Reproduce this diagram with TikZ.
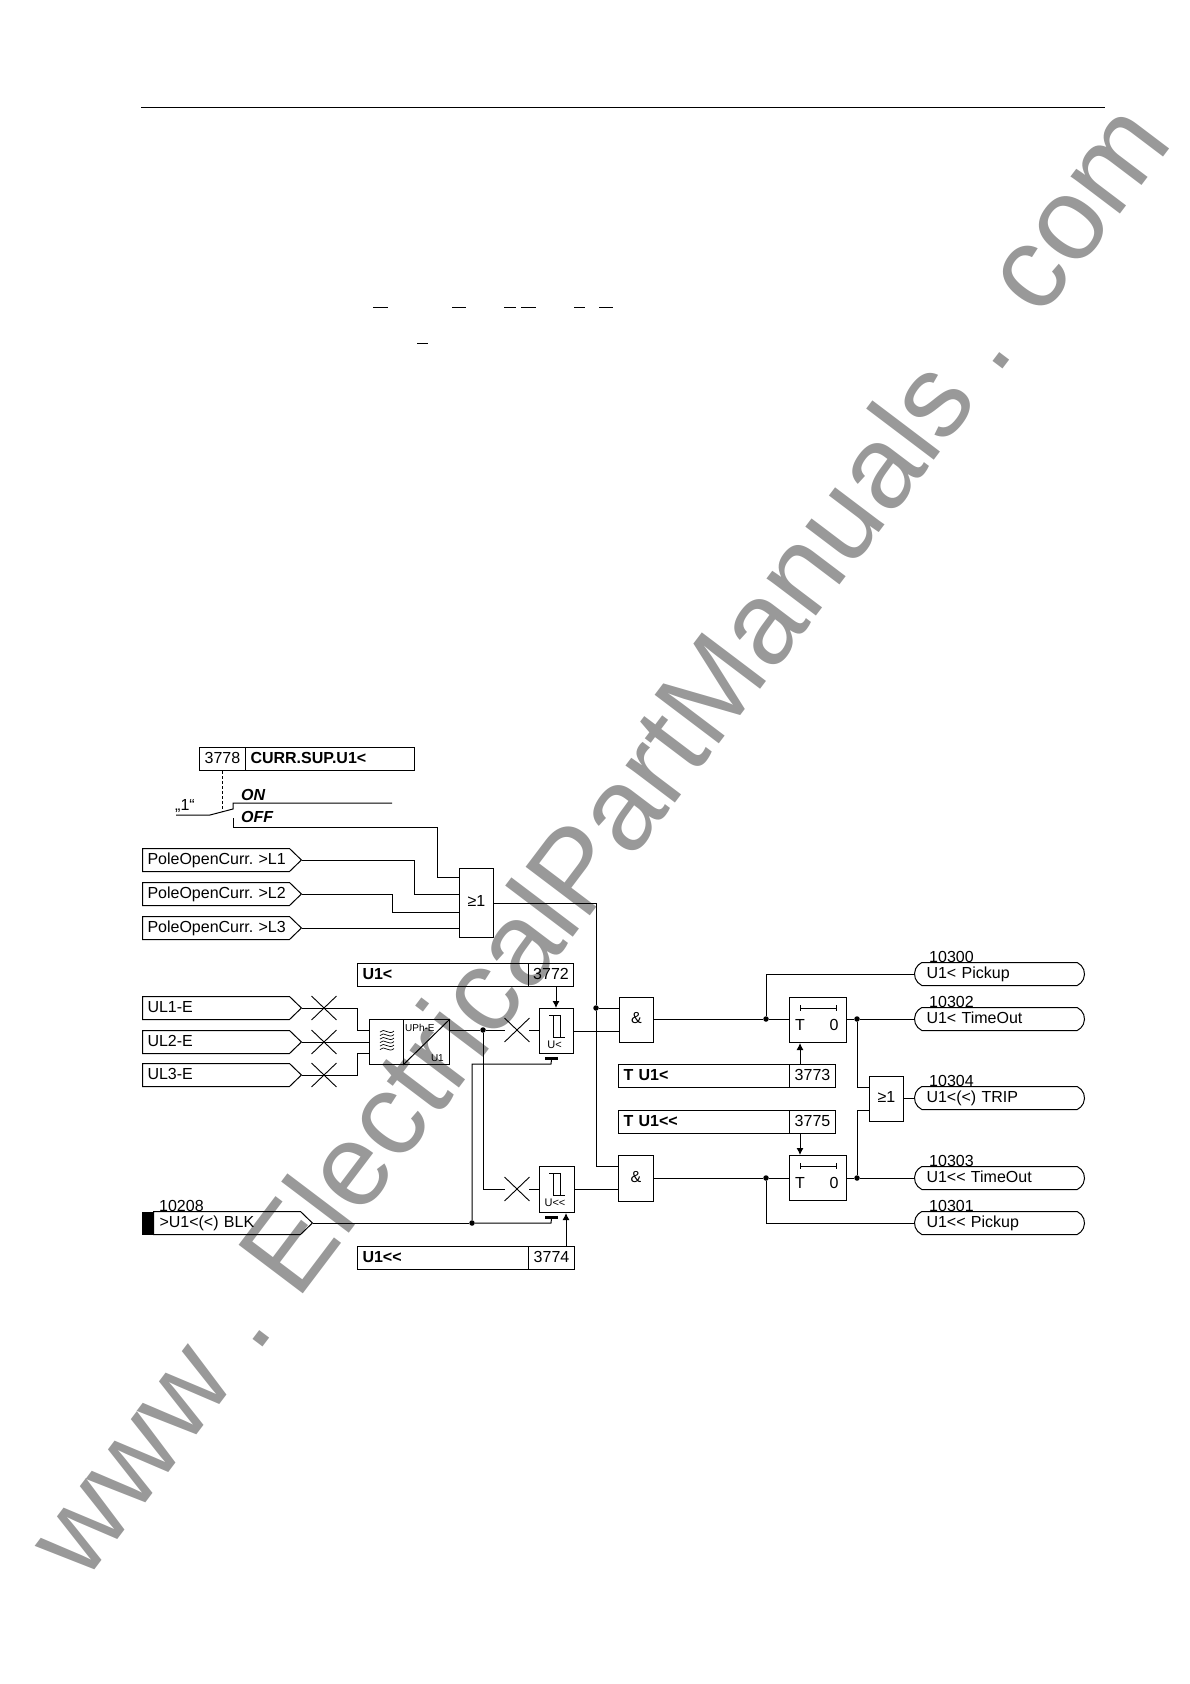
\documentclass[tikz,border=0pt]{standalone}
\usepackage{fontspec}
\setmainfont{Liberation Sans}
\usetikzlibrary{arrows.meta,shapes.misc,shapes.symbols}

\tikzset{
  every node/.style={font=\fontsize{16}{18}\selectfont\frenchspacing},
  wire/.style={line width=1pt},
  cell/.style={draw,line width=1pt,anchor=north west,minimum height=23pt,inner ysep=0pt,inner xsep=5pt,align=left,text height=11.5pt,text depth=3pt},
  numcell/.style={cell,inner xsep=0pt,align=center},
  gate/.style={draw,line width=1pt,anchor=north west,inner sep=0pt,text depth=4pt},
  insig/.style={draw,line width=1pt,signal,signal to=east,signal pointer angle=88,anchor=west,minimum height=23pt,inner ysep=0pt,inner xsep=5pt,align=left,text height=11.5pt,text depth=3pt},
  outsig/.style={draw,line width=1pt,rounded rectangle,rounded rectangle arc length=130,anchor=west,minimum height=23pt,minimum width=170pt,text width=146pt,inner ysep=0pt,inner xsep=0pt,align=left,text height=11.5pt,text depth=3pt},
  crossmark/.style={draw,line width=0.9pt,cross out,minimum width=24pt,minimum height=23pt,inner sep=0pt},
  dot/.style={circle,fill=black,inner sep=0pt,minimum size=5.5pt},
  bar/.style={fill=black,inner sep=0pt,minimum width=13pt,minimum height=3pt},
  tip/.style={-{Latex[length=7pt,width=7pt]}},
  small/.style={font=\fontsize{10}{11}\selectfont,inner sep=0pt},
  smaller/.style={font=\fontsize{11}{11}\selectfont,inner sep=0pt}
}

\begin{document}
\begin{tikzpicture}[x=1pt,y=-1pt]
\useasboundingbox (0,0) rectangle (1190,1684);

% watermark
\node[text=black!40,rotate=52.9,font=\fontsize{117}{130}\selectfont,inner sep=0pt] (mark) at (596,838) {www .\hspace{-8pt} ElectricalPartManuals\hspace{-5pt} .\hspace{-3pt} com};

% page rule and the marks above the text
\draw[line width=1pt] (141,107) -- (1105,107);
\foreach \xa/\xb/\yy in {373/388/307,452/466/307,504/516/307,521/536/307,574/585/307,599/613/307,417/428/343}
  \draw[line width=1pt] (\xa,\yy) -- (\xb,\yy);

% setting and switch
\node[numcell,minimum width=46pt] (setnum) at (199,747) {3778};
\node[cell,text width=159pt] (setname) at (245,747) {\textbf{CURR.SUP.U1<}};
\coordinate (swa) at (210,815);
\coordinate (swb) at (233,809);
\coordinate (swc) at (233,818);
\coordinate (swm) at (setnum.south |- 0,811.5);
\node[inner sep=0pt,anchor=base west] (one) at (175,810) {„1“};
\draw[line width=0.8pt,densely dashed] (setnum.south) -- (swm);
\draw[wire] (176,815) -- (swa) -- (swb) -- (233,803) -- (392,803);
\node[inner sep=0pt,anchor=west] (onlab) at (241,795) {\textbf{\textit{ON}}};
\node[inner sep=0pt,anchor=west] (offlab) at (241,817) {\textbf{\textit{OFF}}};

% pole open signals
\foreach \nm/\yy/\tx in {pa/860/PoleOpenCurr. >L1,pb/894/PoleOpenCurr. >L2,pc/928/PoleOpenCurr. >L3}
  \node[insig,text width=137pt] (\nm) at (142,\yy) {\mbox{\tx}};
\node[gate,minimum width=34pt,minimum height=69pt] (orb) at (459,868) {≥1};
\coordinate (ora) at (459,877);
\coordinate (orc) at (459,894);
\coordinate (ord) at (459,912);
\coordinate (ore) at (459,928);
\draw[wire] (swc) -- (233,827) -- (437,827) |- (ora);
\draw[wire] (pa.east) -- (414,860) |- (orc);
\draw[wire] (pb.east) -- (392,894) |- (ord);
\draw[wire] (pc.east) -- (ore);

% measured values
\foreach \nm/\yy/\tx in {ua/1008/UL1-E,ub/1042/UL2-E,uc/1075/UL3-E}
  \node[insig,text width=137pt] (\nm) at (142,\yy) {\tx};
\foreach \nm/\yy in {xa/1008,xb/1042,xc/1075}
  \node[crossmark] (\nm) at (324,\yy) {};
\node[gate,minimum width=34pt,minimum height=45pt] (filt) at (369,1019) {};
\node[gate,minimum width=46pt,minimum height=45pt] (conv) at (403,1019) {};
\draw[wire] (conv.south west) -- (conv.north east);
\node[small,anchor=north west] (uph) at (405,1024) {UPh-E};
\node[small,anchor=south east] (uone) at (444,1062) {U1};
\foreach \yy in {1031,1038,1045}
  \draw[line width=0.7pt] (380,\yy+1) .. controls (384,\yy-4) and (389,\yy+5) .. (394,\yy)
    (380,\yy+4.5) .. controls (384,\yy-0.5) and (389,\yy+8.5) .. (394,\yy+3.5);
\coordinate (fa) at (369,1030);
\coordinate (fb) at (369,1042);
\coordinate (fc) at (369,1053);
\draw[wire] (ua.east) -- (357,1008) |- (fa);
\draw[wire] (ub.east) -- (fb);
\draw[wire] (uc.east) -- (357,1075) |- (fc);

% threshold stages
\node[cell,text width=161pt] (laba) at (357,963) {\textbf{U1<}};
\node[numcell,minimum width=45pt] (numa) at (528,963) {3772};
\node[cell,text width=161pt] (labb) at (357,1246) {\textbf{U1<{}<}};
\node[numcell,minimum width=46pt] (numb) at (528,1246) {3774};
\node[gate,minimum width=34pt,minimum height=45pt] (stga) at (539,1008) {};
\node[gate,minimum width=35pt,minimum height=46pt] (stgb) at (539,1166) {};
\foreach \nm/\tx in {stga/U<,stgb/U<{}<} {
  \draw[wire] ([shift={(10,7)}]\nm.north west) -- ++(11,0) -- ++(0,22) -- ++(5,0)
    ([shift={(14,7)}]\nm.north west) -- ++(0,22) -- ++(7,0);
  \node[smaller,anchor=north] at ([shift={(-2,33)}]\nm.north) {\tx};
}
\node[bar] (bara) at (551.5,1058) {};
\node[bar] (barb) at (551.5,1217) {};
\node[dot] (ja) at (483,1030) {};
\node[dot] (jb) at (472,1223) {};
\node[dot] (jc) at (596,1008) {};
\node[crossmark] (xd) at (517,1030) {};
\node[crossmark] (xe) at (517,1189) {};
\draw[wire,tip] (numa.south -| 556,0) -- (stga.north -| 556,0);
\draw[wire,tip] (numb.north -| 566,0) -- (stgb.south -| 566,0);
\draw[wire] (conv.north east |- ja) -- (ja) -- (xd) -- (stga.west |- xd);
\draw[wire] (ja) |- (xe) -- (stgb.west |- xe);
\draw[wire] (bara.south) -- (551,1064) -| (jb);
\draw[wire] (jb) -- (551,1223) -- (barb.south);

% blocking input
\node[insig,text width=147pt,inner xsep=0pt] (blk) at (153,1223) {\mbox{\hspace{6pt}>U1<(<) BLK}};
\node[fill=black,anchor=east,inner sep=0pt,minimum width=11pt,minimum height=23pt] (blkbar) at (153,1223) {};
\node[inner sep=0pt,anchor=base west] (blknum) at (159,1211) {10208};
\draw[wire] (blk.east) -- (jb);

% and gates
\node[gate,minimum width=34pt,minimum height=45pt] (anda) at (619,997) {\&};
\node[gate,minimum width=35pt,minimum height=46pt] (andb) at (618,1155) {\&};
\draw[wire] (orb.east) -- (596,903) -- (jc) -- (596,1166) -- (andb.west |- 0,1166);
\draw[wire] (jc) -- (anda.west |- jc);
\draw[wire] (stga.east) -- (anda.west |- stga.east);
\draw[wire] (stgb.east |- xe) -- (andb.west |- xe);

% time stages
\foreach \nm/\yy in {ta/997,tb/1155} {
  \node[gate,minimum width=57pt,minimum height=45pt] (\nm) at (789,\yy) {};
  \node[inner sep=0pt] at ([shift={(11,28)}]\nm.north west) {T};
  \node[inner sep=0pt] at ([shift={(45,28)}]\nm.north west) {0};
  \draw[line width=0.8pt] ([shift={(11,11)}]\nm.north west) -- ++(36,0)
    ([shift={(11,8)}]\nm.north west) -- ++(0,6) ([shift={(47,8)}]\nm.north west) -- ++(0,6);
}
\node[cell,text width=161pt] (tlaba) at (618,1064) {\textbf{T U1<}};
\node[numcell,minimum width=46pt] (tnuma) at (789,1064) {3773};
\node[cell,text width=161pt] (tlabb) at (618,1110) {\textbf{T U1<{}<}};
\node[numcell,minimum width=46pt] (tnumb) at (789,1110) {3775};
\draw[wire,tip] (tnuma.north -| 800,0) -- (ta.south -| 800,0);
\draw[wire,tip] (tnumb.south -| 800,0) -- (tb.north -| 800,0);

% outputs
\foreach \nm/\yy/\tx/\num in {oa/974/U1< Pickup/10300,ob/1019/U1< TimeOut/10302,oc/1098/U1<(<) TRIP/10304,od/1178/U1<{}< TimeOut/10303,oe/1223/U1<{}< Pickup/10301} {
  \node[outsig] (\nm) at (914,\yy) {\tx};
  \node[inner sep=0pt,anchor=base west] at (929,\yy-12) {\num};
}
\node[gate,minimum width=34pt,minimum height=45pt] (ort) at (869,1076) {≥1};
\node[dot] (jd) at (766,1019) {};
\node[dot] (je) at (857,1019) {};
\node[dot] (jf) at (766,1178) {};
\node[dot] (jg) at (857,1178) {};
\draw[wire] (anda.east |- jd) -- (jd) -- (ta.west |- jd);
\draw[wire] (jd) |- (oa.west);
\draw[wire] (ta.east |- je) -- (je) -- (ob.west);
\draw[wire] (andb.east |- jf) -- (jf) -- (tb.west |- jf);
\draw[wire] (jf) |- (oe.west);
\draw[wire] (tb.east |- jg) -- (jg) -- (od.west);
\draw[wire] (je) |- (ort.west |- 0,1087);
\draw[wire] (jg) |- (ort.west |- 0,1110);
\draw[wire] (ort.east |- oc) -- (oc.west);
\end{tikzpicture}
\end{document}
